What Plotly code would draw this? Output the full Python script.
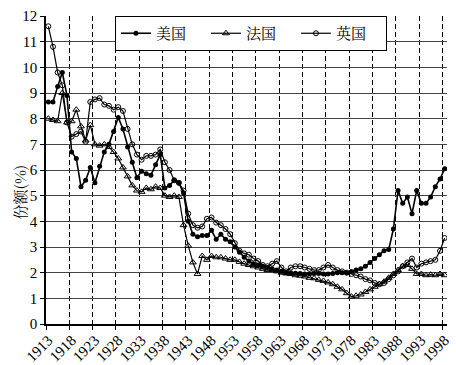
import plotly.graph_objects as go

years = list(range(1913, 1999))

us = [8.65, 8.65, 9.25, 9.8, 8.9, 6.7, 6.45, 5.35, 5.6, 6.1,
      5.5, 6.15, 6.7, 7.0, 7.5, 8.05, 7.6, 6.9, 6.3, 5.7,
      5.95, 5.85, 5.8, 6.2, 6.6, 5.3, 5.4, 5.6, 5.5, 5.1,
      4.0, 3.5, 3.4, 3.45, 3.45, 3.65, 3.3, 3.5, 3.3, 3.2,
      3.0, 2.8, 2.6, 2.45, 2.35, 2.3, 2.25, 2.2, 2.15, 2.1,
      2.05, 2.0, 2.0, 1.98, 1.97, 1.95, 1.95, 1.97, 1.97, 1.95,
      1.95, 1.97, 2.0, 2.0, 2.0, 2.05, 2.1, 2.15, 2.25, 2.4,
      2.55, 2.7, 2.85, 2.9, 3.7, 5.2, 4.7, 4.95, 4.3, 5.2,
      4.7, 4.7, 4.95, 5.35, 5.65, 6.05]

fr = [8.0, 7.95, 7.9, 9.0, 7.85, 7.9, 8.35, 7.7, 7.15, 7.75,
      7.0, 6.95, 7.0, 6.9, 6.7, 6.45, 6.1, 5.75, 5.4, 5.2,
      5.15, 5.3, 5.25, 5.35, 5.3, 5.0, 4.95, 5.0, 4.95, 3.85,
      3.05, 2.4, 1.95, 2.65, 2.5, 2.65, 2.6, 2.6, 2.55, 2.5,
      2.5, 2.42, 2.35, 2.3, 2.25, 2.2, 2.15, 2.1, 2.1, 2.05,
      2.0, 1.97, 1.95, 1.9, 1.88, 1.85, 1.8, 1.78, 1.72, 1.68,
      1.62, 1.55, 1.45, 1.35, 1.2, 1.07, 1.1, 1.15, 1.25, 1.35,
      1.45, 1.55, 1.65, 1.8, 1.95, 2.1, 2.25, 2.3, 2.15, 1.95,
      1.95, 1.9, 1.92, 1.9, 1.95, 1.9]

uk = [11.6, 10.8, 9.8, 9.3, 7.85, 7.3, 7.4, 7.5, 7.1, 8.65,
      8.75, 8.8, 8.55, 8.5, 8.35, 8.45, 8.3, 7.6, 7.0, 6.6,
      6.4, 6.55, 6.55, 6.6, 6.8, 6.3, 6.0, 5.6, 5.5, 5.2,
      4.3, 3.85, 3.75, 3.8, 4.1, 4.15, 3.95, 3.85, 3.7, 3.5,
      3.15, 2.85, 2.75, 2.7, 2.55, 2.45, 2.3, 2.25, 2.35, 2.45,
      2.2, 2.05, 2.2, 2.25, 2.25, 2.2, 2.15, 2.1, 2.1, 2.2,
      2.3, 2.2, 2.1, 2.05, 2.0, 1.95, 1.9, 1.85, 1.75, 1.7,
      1.6, 1.55, 1.6, 1.75, 1.9, 2.05, 2.25, 2.4, 2.55, 2.2,
      2.35, 2.4, 2.45, 2.5, 2.85, 3.35]

names = ["美国", "法国", "英国"]
ytitle = "份额(%)"

serif = "Liberation Serif, Times New Roman, serif"
cjk = "Noto Serif CJK SC, Noto Sans CJK SC, sans-serif"

fig = go.Figure()
fig.add_trace(go.Scatter(x=years, y=us, name=names[0], mode="lines+markers",
                         line=dict(color="black", width=1.6),
                         marker=dict(symbol="circle", size=5, color="black")))
fig.add_trace(go.Scatter(x=years, y=fr, name=names[1], mode="lines+markers",
                         line=dict(color="black", width=1.2),
                         marker=dict(symbol="triangle-up-open", size=6, color="black",
                                     line=dict(width=1))))
fig.add_trace(go.Scatter(x=years, y=uk, name=names[2], mode="lines+markers",
                         line=dict(color="black", width=1.2),
                         marker=dict(symbol="circle-open", size=5, color="black",
                                     line=dict(width=1))))

fig.update_layout(
    width=456, height=365,
    margin=dict(l=46, r=9, t=16, b=41),
    paper_bgcolor="white", plot_bgcolor="white",
    font=dict(family=serif, size=15, color="black"),
    legend=dict(orientation="h", x=0.172, y=1.0, xanchor="left", yanchor="top",
                bgcolor="white", bordercolor="black", borderwidth=1,
                font=dict(family=cjk, size=15), entrywidth=45,
                itemwidth=30, tracegroupgap=0),
    annotations=[dict(text=ytitle, xref="paper", yref="paper", x=-0.065, y=0.43,
                      xanchor="center", yanchor="middle", textangle=-90,
                      showarrow=False, font=dict(family=cjk, size=15))],
)
fig.update_xaxes(type="category", range=[-0.5, len(years) - 0.5],
                 tickmode="linear", tick0=0, dtick=5, tickson="boundaries",
                 tickangle=-45, showgrid=True, gridcolor="black", gridwidth=1,
                 griddash="5px,3px", showline=True, linecolor="black", linewidth=1.5,
                 ticks="outside", ticklen=4, tickcolor="black", automargin=False,
                 tickfont=dict(family=serif, size=15))
fig.update_yaxes(range=[0, 12], dtick=1, showgrid=True, gridcolor="#444", gridwidth=1,
                 showline=True, linecolor="black", linewidth=1.5, zeroline=False,
                 ticks="outside", ticklen=4, tickcolor="black", automargin=False,
                 tickfont=dict(family=serif, size=15))

fig.write_html("out.html")
